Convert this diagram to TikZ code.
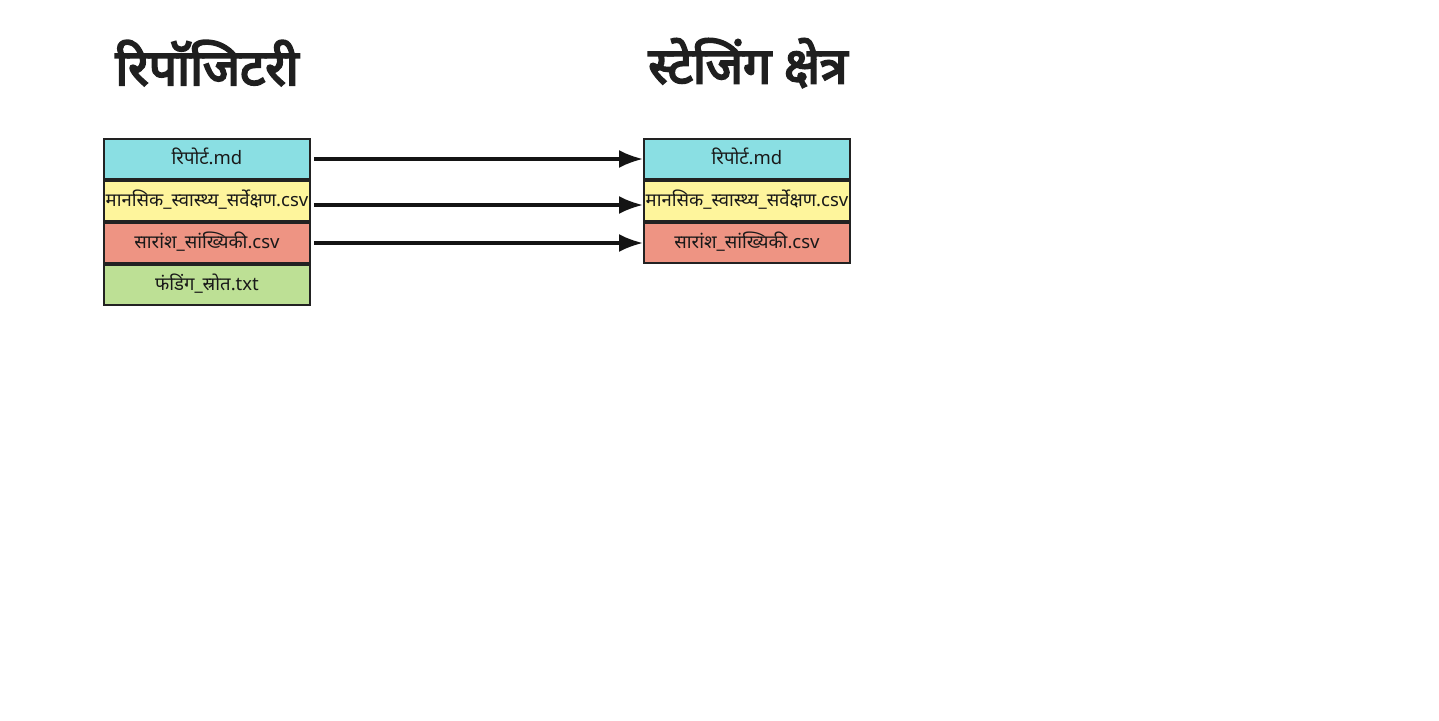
\documentclass[tikz,border=0pt]{standalone}
\usepackage{fontspec}
\newfontfamily\dev[Script=Devanagari]{Noto Sans}
\newfontfamily\devb[Script=Devanagari, FakeBold=4]{Noto Sans}
\usetikzlibrary{arrows.meta}
\definecolor{cya}{HTML}{8ADFE3}
\definecolor{yel}{HTML}{FEF59C}
\definecolor{sal}{HTML}{EE9483}
\definecolor{grn}{HTML}{BDE095}
\definecolor{edge}{HTML}{222222}
\tikzset{
  filebox/.style={draw=edge, line width=2pt, minimum width=206pt, minimum height=40pt, inner sep=0pt, text height=15pt, text depth=5pt, font=\dev\fontsize{18.5}{22}\selectfont, text=black!90},
  title/.style={font=\devb\fontsize{50}{56}\selectfont, text=black!88},
  conn/.style={line width=3.2pt, draw=black!92, -{Latex[length=24pt,width=18pt]}, shorten <=3pt, shorten >=0pt}
}
\begin{document}
\begin{tikzpicture}[x=1pt,y=-1pt]
\useasboundingbox (0,0) rectangle (1439,720);
\node[title] (t1) at (207,63) {रिपॉजिटरी};
\node[title] (t2) at (748,63) {स्टेजिंग क्षेत्र};
\node[filebox, fill=cya] (r1) at (207,159) {रिपोर्ट.md};
\node[filebox, fill=yel] (r2) at (207,201) {मानसिक\_स्वास्थ्य\_सर्वेक्षण.csv};
\node[filebox, fill=sal] (r3) at (207,243) {सारांश\_सांख्यिकी.csv};
\node[filebox, fill=grn] (r4) at (207,285) {फंडिंग\_स्रोत.txt};
\node[filebox, fill=cya] (s1) at (747,159) {रिपोर्ट.md};
\node[filebox, fill=yel] (s2) at (747,201) {मानसिक\_स्वास्थ्य\_सर्वेक्षण.csv};
\node[filebox, fill=sal] (s3) at (747,243) {सारांश\_सांख्यिकी.csv};
\draw[conn] (r1.east) -- (s1.west);
\draw[conn] ([yshift=-4pt]r2.east) -- ([yshift=-4pt]s2.west);
\draw[conn] (r3.east) -- (s3.west);
\end{tikzpicture}
\end{document}
